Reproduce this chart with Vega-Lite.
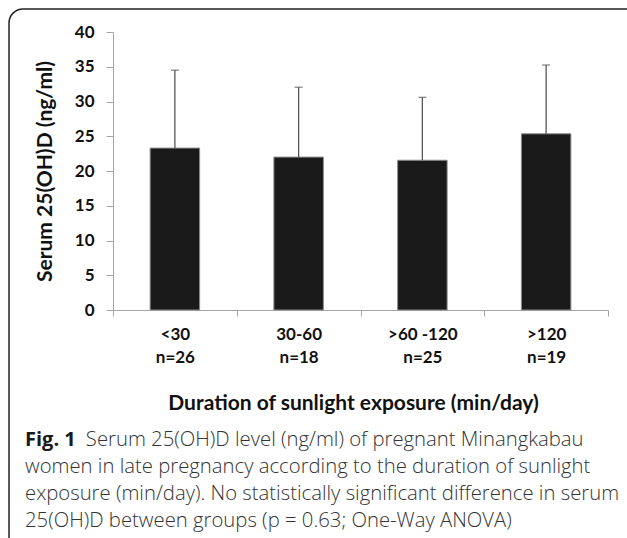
{
  "$schema": "https://vega.github.io/schema/vega-lite/v6.json",
  "autosize": {"type": "none"},
  "width": 640,
  "height": 545,
  "padding": {"left": 9, "top": 9, "right": -22, "bottom": -16},
  "background": "white",
  "config": {
    "view": {"stroke": "#222222", "strokeWidth": 1.5, "cornerRadius": 14, "fill": "white"},
    "font": "Lato"
  },
  "title": {
    "text": "Fig. 1",
    "subtitle": [
      "\u200b\u2003\u2003\u2003Serum 25(OH)D level (ng/ml) of pregnant Minangkabau",
      "women in late pregnancy according to the duration of sunlight",
      "exposure (min/day). No statistically significant difference in serum",
      "25(OH)D between groups (p = 0.63; One-Way ANOVA)"
    ],
    "orient": "bottom",
    "anchor": "start",
    "frame": "group",
    "offset": -124,
    "dx": 16,
    "font": "Open Sans",
    "fontSize": 20,
    "fontWeight": "bold",
    "color": "#1a1a1a",
    "subtitleFont": "Open Sans",
    "subtitleFontSize": 20.3,
    "subtitleFontWeight": 300,
    "subtitleColor": "#333333",
    "subtitleLineHeight": 27,
    "subtitlePadding": -20,
    "baseline": "top"
  },
  "data": {
    "values": [
      {"label": "<30\nn=26", "mean": 23.3, "upper": 34.5},
      {"label": "30-60\nn=18", "mean": 22.0, "upper": 32.05},
      {"label": ">60 -120\nn=25", "mean": 21.55, "upper": 30.6},
      {"label": ">120\nn=19", "mean": 25.35, "upper": 35.25}
    ]
  },
  "encoding": {
    "x": {
      "field": "label",
      "type": "nominal",
      "sort": null,
      "scale": {"range": [104, 599], "paddingInner": 0, "paddingOuter": 0},
      "axis": {
        "title": "Duration of sunlight exposure (min/day)",
        "offset": -244,
        "labelExpr": "split(datum.label, '\\n')",
        "labelAngle": 0,
        "tickBand": "extent",
        "tickSize": 6,
        "domainColor": "#a6a6a6",
        "tickColor": "#a6a6a6",
        "labelPadding": 10,
        "labelLineHeight": 23,
        "labelFont": "Lato",
        "labelFontSize": 17,
        "labelFontWeight": "bold",
        "labelColor": "#111111",
        "labelBaseline": "top",
        "titleFont": "Lato",
        "titleFontSize": 21,
        "titleFontWeight": "bold",
        "titleColor": "#111111",
        "titlePadding": 27,
        "titleX": 344,
        "titleAlign": "center"
      }
    }
  },
  "layer": [
    {
      "mark": {"type": "bar", "width": {"band": 0.4}, "color": "#1a1a1a", "stroke": "#8c8c8c", "strokeWidth": 1},
      "encoding": {
        "y": {
          "field": "mean",
          "type": "quantitative",
          "scale": {"domain": [0, 40], "range": [301, 23], "nice": false},
          "axis": {
            "title": "Serum 25(OH)D (ng/ml)",
            "values": [0, 5, 10, 15, 20, 25, 30, 35, 40],
            "offset": -104,
            "grid": false,
            "domainColor": "#a6a6a6",
            "tickColor": "#a6a6a6",
            "tickSize": 7,
            "labelPadding": 12,
            "labelFont": "Lato",
            "labelFontSize": 17,
            "labelFontWeight": "bold",
            "labelColor": "#111111",
            "titleFont": "Lato",
            "titleFontSize": 21,
            "titleFontWeight": "bold",
            "titleColor": "#111111",
            "titlePadding": 19
          }
        }
      }
    },
    {
      "mark": {"type": "rule", "color": "#555555", "strokeWidth": 1.3},
      "encoding": {
        "y": {"field": "mean", "type": "quantitative"},
        "y2": {"field": "upper"}
      }
    },
    {
      "mark": {"type": "tick", "color": "#555555", "thickness": 1.3, "size": 8},
      "encoding": {
        "y": {"field": "upper", "type": "quantitative"}
      }
    }
  ]
}
